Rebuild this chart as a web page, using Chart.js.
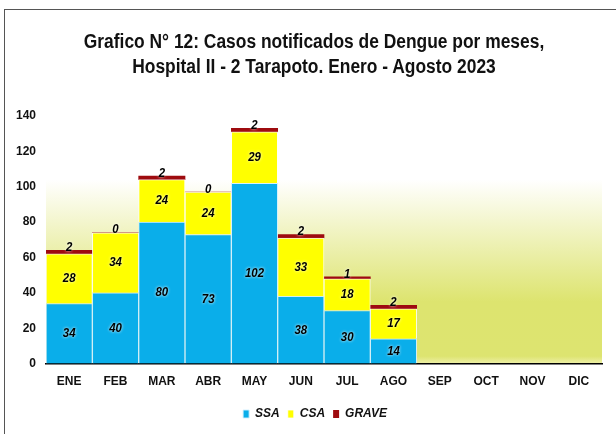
<!DOCTYPE html>
<html>
<head>
<meta charset="utf-8">
<script src="https://cdn.jsdelivr.net/npm/chart.js@4.4.1/dist/chart.umd.min.js"></script>
<style>
  html, body { margin: 0; padding: 0; background: #fff; }
  #wrap { position: relative; width: 616px; height: 434px; }
  #frame { position: absolute; left: 4px; top: 9px; right: 0; bottom: 0; border-left: 1px solid #555; border-top: 1px solid #555; pointer-events: none; }
  #title { position: absolute; left: 6px; width: 616px; top: 29px; text-align: center; font: bold 20px 'Liberation Sans', Arial, sans-serif; line-height: 25px; color: #111; transform: scaleX(0.87); transform-origin: 308px 0; white-space: nowrap; }
</style>
</head>
<body>
<div id="wrap">
  <canvas id="chart" width="616" height="434"></canvas>
  <div id="title">Grafico N° 12: Casos notificados  de Dengue por meses,<br>Hospital II - 2 Tarapoto. Enero - Agosto 2023</div>
  <div id="frame"></div>
</div>
<script>
// Casos de dengue por mes, Hospital II-2 Tarapoto 2023
const months = ['ENE', 'FEB', 'MAR', 'ABR', 'MAY', 'JUN', 'JUL', 'AGO', 'SEP', 'OCT', 'NOV', 'DIC'];
const ssa = [34, 40, 80, 73, 102, 38, 30, 14, null, null, null, null];
const csa = [28, 34, 24, 24, 29, 33, 18, 17, null, null, null, null];
const grave = [2, 0, 2, 0, 2, 2, 1, 2, null, null, null, null];
const yTicks = [0, 20, 40, 60, 80, 100, 120, 140];

const FONT = "'Liberation Sans', Arial, sans-serif";

// plot area background: white on top fading to yellow-green
const bgPlugin = {
    id: 'bgGradient',
    beforeDraw(chart) {
        const { ctx, chartArea: a, scales } = chart;
        const yTop = scales.y.getPixelForValue(104);
        const yMid = scales.y.getPixelForValue(35);
        const g = ctx.createLinearGradient(0, a.top, 0, a.bottom);
        const span = a.bottom - a.top;
        g.addColorStop(0, 'rgba(255,255,255,1)');
        g.addColorStop((yTop - a.top) / span, 'rgba(255,255,255,1)');
        g.addColorStop((yMid - a.top) / span, '#dde46f');
        g.addColorStop(0.97, '#dde470');
        g.addColorStop(1, '#eef0a8');
        ctx.save();
        ctx.fillStyle = g;
        ctx.fillRect(a.left, a.top, a.right - a.left, a.bottom - a.top);
        ctx.restore();
    }
};

// legend sits a bit right of centre in the original
const legendShift = {
    id: 'legendShift',
    afterLayout(chart) {
        if (chart.legend) {
            chart.legend.left += 11;
            chart.legend.right += 11;
        }
    }
};

// value labels inside the segments
const labelPlugin = {
    id: 'segLabels',
    afterDatasetsDraw(chart) {
        const { ctx } = chart;
        ctx.save();
        ctx.font = "italic bold 13px " + FONT;
        ctx.textAlign = 'center';
        ctx.textBaseline = 'middle';
        chart.data.datasets.forEach((ds, di) => {
            const meta = chart.getDatasetMeta(di);
            meta.data.forEach((bar, i) => {
                const v = ds.data[i];
                if (v === null || v === undefined) return;
                const y = di === 2 ? bar.y - 3 : (bar.y + bar.base) / 2;
                ctx.save();
                ctx.translate(bar.x, y);
                ctx.scale(0.88, 1);
                ctx.shadowColor = 'rgba(255,255,255,0.95)';
                ctx.shadowBlur = 3;
                ctx.fillStyle = '#000';
                ctx.fillText(String(v), 0, 0);
                ctx.restore();
            });
        });
        ctx.restore();
    }
};

new Chart(document.getElementById('chart'), {
    type: 'bar',
    data: {
        labels: months,
        datasets: [
            { label: 'SSA', data: ssa, backgroundColor: '#0aaeea', borderColor: 'rgba(210,240,255,0.9)', borderWidth: 1 },
            { label: 'CSA', data: csa, backgroundColor: '#ffff00', borderColor: 'rgba(255,255,255,0.8)', borderWidth: 1 },
            { label: 'GRAVE', data: grave, backgroundColor: '#9e0b0f', borderColor: 'rgba(255,255,255,0.6)', borderWidth: 0 }
        ]
    },
    options: {
        responsive: false,
        animation: false,
        layout: { padding: { left: 6, right: 14, top: 116, bottom: 4 } },
        datasets: { bar: { barPercentage: 1, categoryPercentage: 1 } },
        plugins: {
            title: { display: false },
            legend: {
                position: 'bottom',
                labels: {
                    color: '#111',
                    font: { family: FONT, size: 12, weight: 'bold', style: 'italic' },
                    boxWidth: 6,
                    boxHeight: 8,
                    padding: 8
                }
            },
            tooltip: { enabled: false }
        },
        scales: {
            x: {
                stacked: true,
                grid: { display: false, drawTicks: false },
                border: { display: true, color: '#000', width: 1.5 },
                ticks: { color: '#111', font: { family: FONT, size: 12, weight: 'bold' }, padding: 11 }
            },
            y: {
                stacked: true,
                min: 0,
                max: 140,
                afterBuildTicks: (axis) => { axis.ticks = yTicks.map(v => ({ value: v })); },
                grid: { display: false, drawTicks: false },
                border: { display: false },
                ticks: { color: '#111', font: { family: FONT, size: 12, weight: 'bold' }, padding: 10 }
            }
        }
    },
    plugins: [bgPlugin, legendShift, labelPlugin]
});
</script>
</body>
</html>
